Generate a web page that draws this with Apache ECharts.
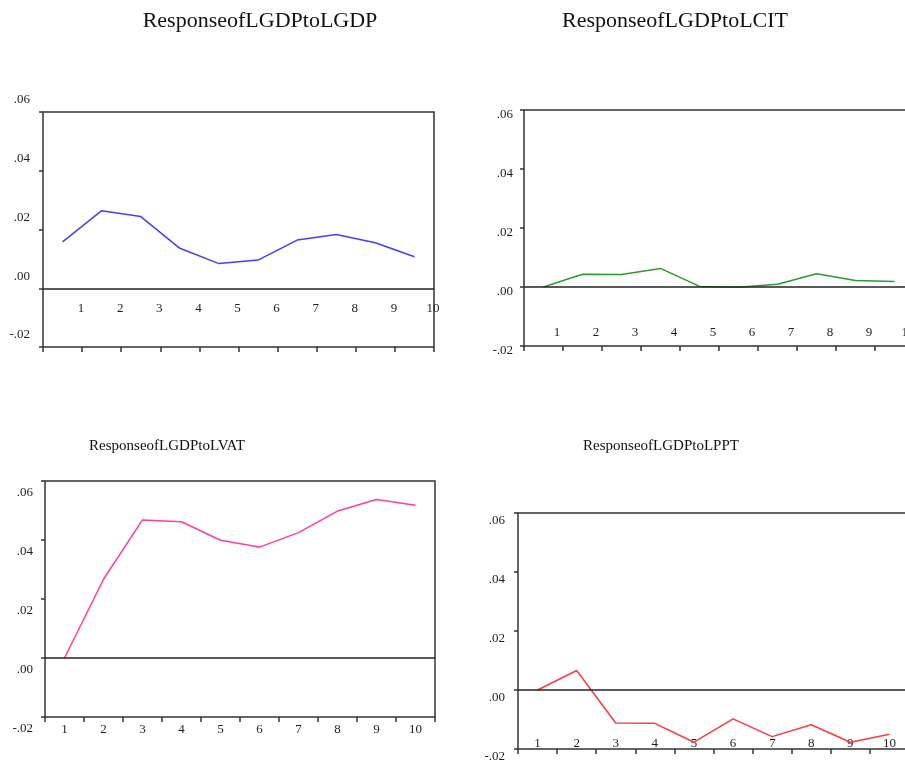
<!DOCTYPE html>
<html>
<head>
<meta charset="utf-8">
<script src="https://cdn.jsdelivr.net/npm/echarts@6/dist/echarts.min.js"></script>
<style>
  html, body { margin: 0; padding: 0; background: #fff; }
  #chart { width: 905px; height: 760px; }
</style>
</head>
<body>
<div id="chart"></div>
<script>
// periods 1..10
var periods = ['1', '2', '3', '4', '5', '6', '7', '8', '9', '10'];

// impulse responses
var lgdpToLgdp = [0.0158, 0.0264, 0.0244, 0.0136, 0.0084, 0.0096, 0.0164, 0.0183, 0.0155, 0.0107];
var lgdpToLcit = [0.0000, 0.0043, 0.0042, 0.0063, 0.0002, -0.0001, 0.0009, 0.0045, 0.0022, 0.0019];
var lgdpToLvat = [0.0000, 0.0267, 0.0468, 0.0462, 0.0399, 0.0376, 0.0425, 0.0498, 0.0537, 0.0518];
var lgdpToLppt = [0.0000, 0.0066, -0.0112, -0.0113, -0.0177, -0.0098, -0.0158, -0.0118, -0.0177, -0.0150];

// y axis range
var yMin = -0.02, yMax = 0.06, yStep = 0.02;

var serif = 'Liberation Serif';
var ink = '#1e1e1e';

var panels = [
  { title: 'ResponseofLGDPtoLGDP', values: lgdpToLgdp, color: '#4040ff',
    grid: { left: 43, top: 112, width: 391, height: 235 },
    titlePos: { left: 255, top: 5, size: 22 },
    labelsOnTicks: true, xMargin: -45, xShift: 2, yAlign: 'bottom', yLine: 24, yMargin: 13 },
  { title: 'ResponseofLGDPtoLCIT', values: lgdpToLcit, color: '#2e9a2e',
    grid: { left: 524, top: 110, width: 390, height: 236 },
    titlePos: { left: 670, top: 5, size: 22 },
    labelsOnTicks: true, xMargin: -20, xShift: 12, yAlign: 'top', yLine: 10, yMargin: 11 },
  { title: 'ResponseofLGDPtoLVAT', values: lgdpToLvat, color: '#ff3fa0',
    grid: { left: 45, top: 481, width: 390, height: 236 },
    titlePos: { left: 162, top: 434, size: 15 },
    labelsOnTicks: false, xMargin: 6, yAlign: 'top', yLine: 24, yMargin: 12 },
  { title: 'ResponseofLGDPtoLPPT', values: lgdpToLppt, color: '#ff3b3b',
    grid: { left: 518, top: 513, width: 391, height: 236 },
    titlePos: { left: 656, top: 434, size: 15 },
    labelsOnTicks: false, xMargin: -12, yAlign: 'top', yLine: 16, yMargin: 13 }
];

var titles = [], grids = [], xAxes = [], yAxes = [], series = [];

panels.forEach(function (p, i) {
  titles.push({
    text: p.title,
    left: p.titlePos.left,
    top: p.titlePos.top,
    textAlign: 'center',
    textStyle: { fontFamily: serif, fontSize: p.titlePos.size, fontWeight: 'normal', color: '#111' }
  });
  grids.push({
    left: p.grid.left, top: p.grid.top, width: p.grid.width, height: p.grid.height,
    outerBoundsMode: 'none', containLabel: false,
    show: true, borderColor: '#333', borderWidth: 1.5, backgroundColor: 'transparent'
  });
  // category axis for the line itself
  var catIndex = xAxes.length;
  xAxes.push({
    type: 'category',
    gridIndex: i,
    data: periods,
    boundaryGap: true,
    position: 'bottom',
    axisLine: { show: false, onZero: false },
    axisTick: { show: true, inside: false, length: 5, interval: 0, lineStyle: { color: '#333', width: 1.5 } },
    axisLabel: {
      show: !p.labelsOnTicks, interval: 0, margin: p.xMargin,
      fontFamily: serif, fontSize: 13, color: ink
    },
    splitLine: { show: false }
  });
  if (p.labelsOnTicks) {
    // numbers sitting on the tick marks, as in the picture
    xAxes.push({
      type: 'value',
      gridIndex: i,
      min: 0, max: periods.length, interval: 1,
      position: 'bottom',
      axisLine: { show: false, onZero: false },
      axisTick: { show: false },
      splitLine: { show: false },
      axisLabel: {
        margin: p.xMargin, fontFamily: serif, fontSize: 13, color: ink,
        padding: [0, p.xShift, 0, 0],
        showMinLabel: false,
        formatter: function (v) { return v === 0 ? '' : String(v); }
      }
    });
  }
  yAxes.push({
    type: 'value',
    gridIndex: i,
    min: yMin, max: yMax, interval: yStep,
    axisLine: { show: false },
    axisTick: { show: true, inside: false, length: 4, lineStyle: { color: '#333', width: 1.5 } },
    splitLine: { show: false },
    axisLabel: {
      margin: p.yMargin,
      fontFamily: serif, fontSize: 13, color: ink,
      verticalAlign: p.yAlign, lineHeight: p.yLine,
      formatter: function (v) { return v.toFixed(2).replace('0.', '.'); }
    }
  });
  series.push({
    type: 'line',
    xAxisIndex: catIndex,
    yAxisIndex: i,
    data: p.values,
    symbol: 'none',
    smooth: false,
    lineStyle: { color: p.color, width: 1.5 },
    markLine: {
      silent: true,
      symbol: 'none',
      label: { show: false },
      lineStyle: { color: '#222', width: 1.5, type: 'solid' },
      data: [{ yAxis: 0 }]
    },
    z: 3
  });
});

var chart = echarts.init(document.getElementById('chart'));
chart.setOption({
  backgroundColor: '#fff',
  animation: false,
  title: titles,
  grid: grids,
  xAxis: xAxes,
  yAxis: yAxes,
  series: series
});
window.onresize = function () {
  chart.resize();
};
</script>
</body>
</html>
